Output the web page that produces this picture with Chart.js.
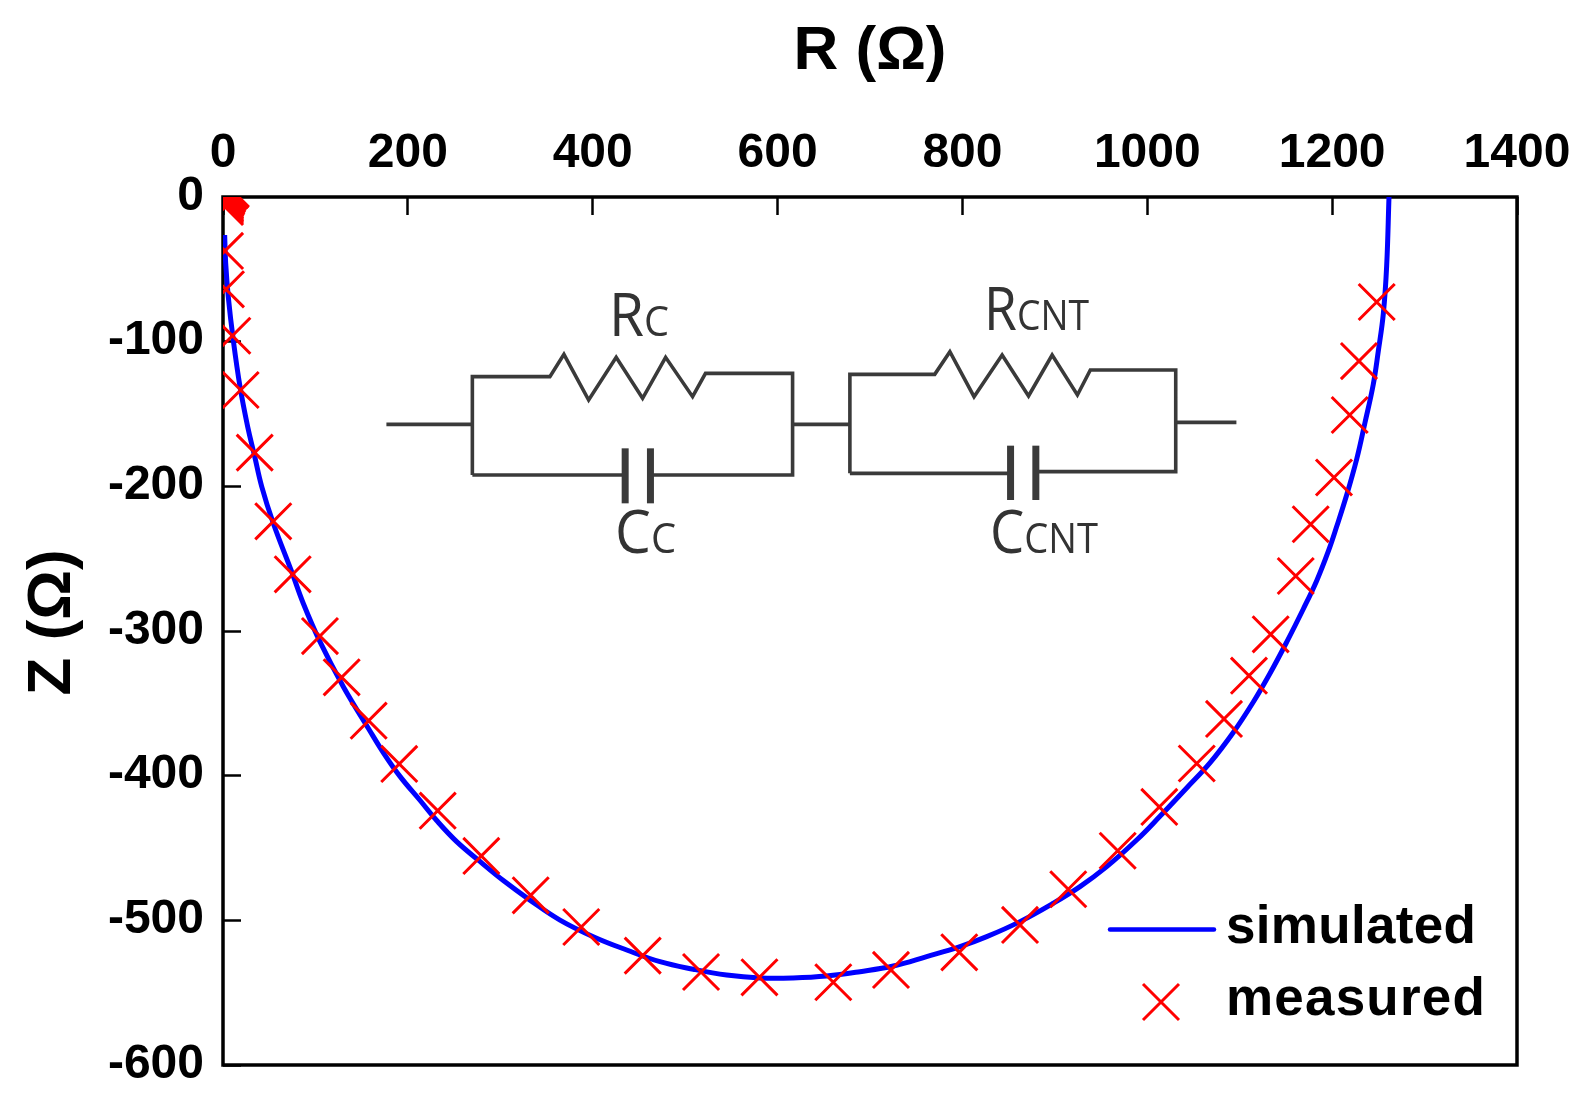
<!DOCTYPE html>
<html>
<head>
<meta charset="utf-8">
<style>html,body{margin:0;padding:0;background:#fff}canvas{display:block}</style>
<script src="https://cdn.jsdelivr.net/npm/chart.js@4/dist/chart.umd.js"></script>
</head>
<body>
<canvas id="c" width="1596" height="1104"></canvas>
<script>
const xTicks = [0,200,400,600,800,1000,1200,1400];
const xTickLabels = ['0','200','400','600','800','1000','1200','1400'];
const yTicks = [0,-100,-200,-300,-400,-500,-600];
const yTickLabels = ['0','-100','-200','-300','-400','-500','-600'];

const simR = [1.8,2.9,5.7,11.1,18.4,26.7,33.9,41.9,54.4,74.3,86.9,104.9,130.2,157.2,173.4,191.5,213.1,231.2,252.8,278,303.3,332.1,364.6,400.6,436.8,472.8,508.8,544.9,581,616.7,653.1,689.2,725.2,761.3,797.4,826.3,862.3,898.3,927.2,956.1,988.5,1013.7,1042.6,1067.8,1093,1114.7,1132.7,1150.8,1168.8,1183.3,1195.8,1204.9,1215.7,1226.6,1235.5,1244.5,1249.9,1255.4,1259,1261.5];
const simZ = [-26.3,-45.8,-68.9,-98.8,-131.1,-158.8,-178.3,-200.2,-225.5,-259,-281,-307.4,-338.5,-367.2,-384,-400.5,-417,-431,-445.6,-459.3,-472.5,-486,-499.8,-511.3,-520.5,-528.6,-533.8,-537.8,-539.8,-539.8,-538.5,-535.5,-531.6,-525.1,-518.2,-511.3,-500.9,-488.2,-476.7,-462.9,-444.5,-428.1,-408.5,-391.2,-370.2,-349.1,-329.4,-307.7,-284.8,-265.2,-245,-227.8,-206,-181.1,-156,-129.5,-106.7,-80.5,-47.5,0];

const measR = [8.5,7.5,6.5,5.4,4.8,4.3,3.7,3.2,2.7,2.2,2.2,2.2,2.2,2.2,2.2,2.2,3.2,10.1,19.1,34.3,54.4,75.4,104.9,128.4,157.6,190.7,232.3,279.5,332.9,387.6,454.1,517.2,580.4,660.3,722.7,796.6,862.3,914.5,968,1013,1053.5,1083,1110,1133.5,1160.6,1176.8,1202,1219,1229,1248.2];
const measZ = [5.5,4.8,4.2,3.8,2.8,1.8,0.7,0,-0.7,-1.4,-2.5,-3.5,-4.5,-5.5,-6.9,-37.3,-63.8,-95.9,-133.4,-176.7,-224.2,-260.8,-303.5,-332,-362,-391.9,-424.2,-455.5,-482.7,-504.6,-524.4,-535.7,-539.4,-542.8,-534.3,-522.1,-503.2,-478.5,-451.9,-421.6,-391.6,-360.8,-330.9,-302.3,-262,-226.2,-193.9,-150.7,-113.4,-72.6];

const SANS = '"Liberation Sans", Arial, sans-serif';
const BLUE = '#0000ff', RED = '#ff0000';

const frame = {
  id: 'frame',
  beforeDraw(chart) {
    chart.scales.y.getLabelItems(chart.chartArea).forEach(it => { it.textOffset = -0.5; });
  },
  beforeDatasetsDraw(chart) {
    const {ctx, chartArea: a} = chart;
    ctx.save();
    ctx.strokeStyle = '#000';
    ctx.lineWidth = 3.5;
    ctx.strokeRect(a.left, a.top, a.right - a.left, a.bottom - a.top);
    ctx.restore();
  }
};

function wire(ctx, pts, w) {
  ctx.lineWidth = w;
  ctx.beginPath();
  pts.forEach((p, i) => {
    const x = 360 + p[0] / 1.78, y = 270 + p[1] / 3;
    i ? ctx.lineTo(x, y) : ctx.moveTo(x, y);
  });
  ctx.stroke();
}
function fitText(ctx, s, x, base, width) {
  ctx.save();
  ctx.font = 'small-caps 60px "Open Sans", sans-serif';
  const m = ctx.measureText(s).width;
  ctx.translate(x, base);
  ctx.scale(width / m, 1);
  ctx.fillText(s, 0, 0);
  ctx.restore();
}

const inset = {
  id: 'inset',
  afterDraw(chart) {
    const ctx = chart.ctx;
    ctx.save();
    ctx.strokeStyle = '#3a3a3a';
    ctx.fillStyle = '#333';
    ctx.lineJoin = 'miter';
    const W = 3.6;
    wire(ctx, [[47,463],[200,463]], W);
    wire(ctx, [[770,463],[872,463]], W);
    wire(ctx, [[1452,457],[1560,457]], W);
    wire(ctx, [[200,615],[200,320],[338,320],[363,253],[407,390],[456,262],[503,385],[544,262],[592,380],[615,310],[770,310],[770,615],[517,615]], W);
    wire(ctx, [[200,615],[472,615]], W);
    wire(ctx, [[872,610],[872,313],[1023,313],[1050,245],[1093,380],[1143,255],[1190,378],[1232,255],[1277,375],[1300,300],[1452,300],[1452,605],[1203,605]], W);
    wire(ctx, [[872,610],[1158,610]], W);
    wire(ctx, [[472,535],[472,700]], 7);
    wire(ctx, [[517,535],[517,700]], 7);
    wire(ctx, [[1158,527],[1158,690]], 7);
    wire(ctx, [[1203,527],[1203,690]], 7);
    fitText(ctx, 'Rc', 609, 336, 60);
    fitText(ctx, 'Rcnt', 984, 330, 105);
    fitText(ctx, 'Cc', 615, 553, 61);
    fitText(ctx, 'Ccnt', 990, 553, 108);

    // legend
    const ds = chart.data.datasets;
    ctx.lineCap = 'round';
    ctx.strokeStyle = BLUE; ctx.lineWidth = 4.5;
    ctx.beginPath(); ctx.moveTo(1110, 929.5); ctx.lineTo(1214, 929.5); ctx.stroke();
    ctx.lineCap = 'butt';
    ctx.strokeStyle = RED; ctx.lineWidth = 3;
    ctx.beginPath();
    ctx.moveTo(1143, 984); ctx.lineTo(1179, 1020);
    ctx.moveTo(1179, 984); ctx.lineTo(1143, 1020);
    ctx.stroke();
    ctx.fillStyle = '#000';
    ctx.font = 'bold 53px ' + SANS;
    ctx.textBaseline = 'alphabetic';
    ctx.letterSpacing = '0.3px';
    ctx.fillText(ds[0].label, 1226, 943);
    ctx.letterSpacing = '1.2px';
    ctx.fillText(ds[1].label, 1226, 1015);
    ctx.restore();
  }
};

new Chart(document.getElementById('c'), {
  type: 'scatter',
  plugins: [frame, inset],
  data: {
    datasets: [
      { label: 'simulated', order: 1, showLine: true, tension: 0.4,
        data: simR.map((r, i) => ({x: r, y: simZ[i]})),
        borderColor: BLUE, borderWidth: 5, pointRadius: 0, pointHoverRadius: 0 },
      { label: 'measured', order: 0, showLine: false,
        data: measR.map((r, i) => ({x: r, y: measZ[i]})),
        pointStyle: 'crossRot', pointRadius: 25.5, pointBorderWidth: 3,
        pointBorderColor: RED, pointBackgroundColor: RED }
    ]
  },
  options: {
    responsive: false,
    animation: false,
    devicePixelRatio: 1,
    layout: { padding: { left: 0, top: 0, right: 79, bottom: 39 } },
    plugins: { legend: { display: false }, tooltip: { enabled: false } },
    scales: {
      x: {
        type: 'linear', position: 'top', min: 0, max: 1400,
        afterBuildTicks: s => { s.ticks = xTicks.map(v => ({value: v})); },
        afterFit: s => { s.height = 197; s.paddingLeft = 0; s.paddingRight = 0; },
        grid: { drawOnChartArea: false, tickLength: -18, tickWidth: 2.5, tickColor: '#000' },
        border: { display: false },
        ticks: { color: '#000', padding: 32, maxRotation: 0, autoSkip: false,
          font: { family: SANS, weight: 'bold', size: 48 },
          callback: (v, i) => xTickLabels[i] },
        title: { display: true, text: 'R (Ω)', color: '#000', padding: { top: 15, bottom: 0 },
          font: { family: SANS, weight: 'bold', size: 62 } }
      },
      y: {
        type: 'linear', position: 'left', min: -600, max: 0,
        afterBuildTicks: s => { s.ticks = yTicks.map(v => ({value: v})); },
        afterFit: s => { s.width = 223; s.paddingTop = 0; s.paddingBottom = 0; },
        grid: { drawOnChartArea: false, tickLength: -18, tickWidth: 2.5, tickColor: '#000' },
        border: { display: false },
        ticks: { color: '#000', padding: 37, autoSkip: false,
          font: { family: SANS, weight: 'bold', size: 48 },
          callback: (v, i) => yTickLabels[yTicks.indexOf(v)] },
        title: { display: true, text: ' Z (Ω)', color: '#000', padding: { top: 16, bottom: 0 },
          font: { family: SANS, weight: 'bold', size: 62 } }
      }
    }
  }
});
</script>
</body>
</html>
